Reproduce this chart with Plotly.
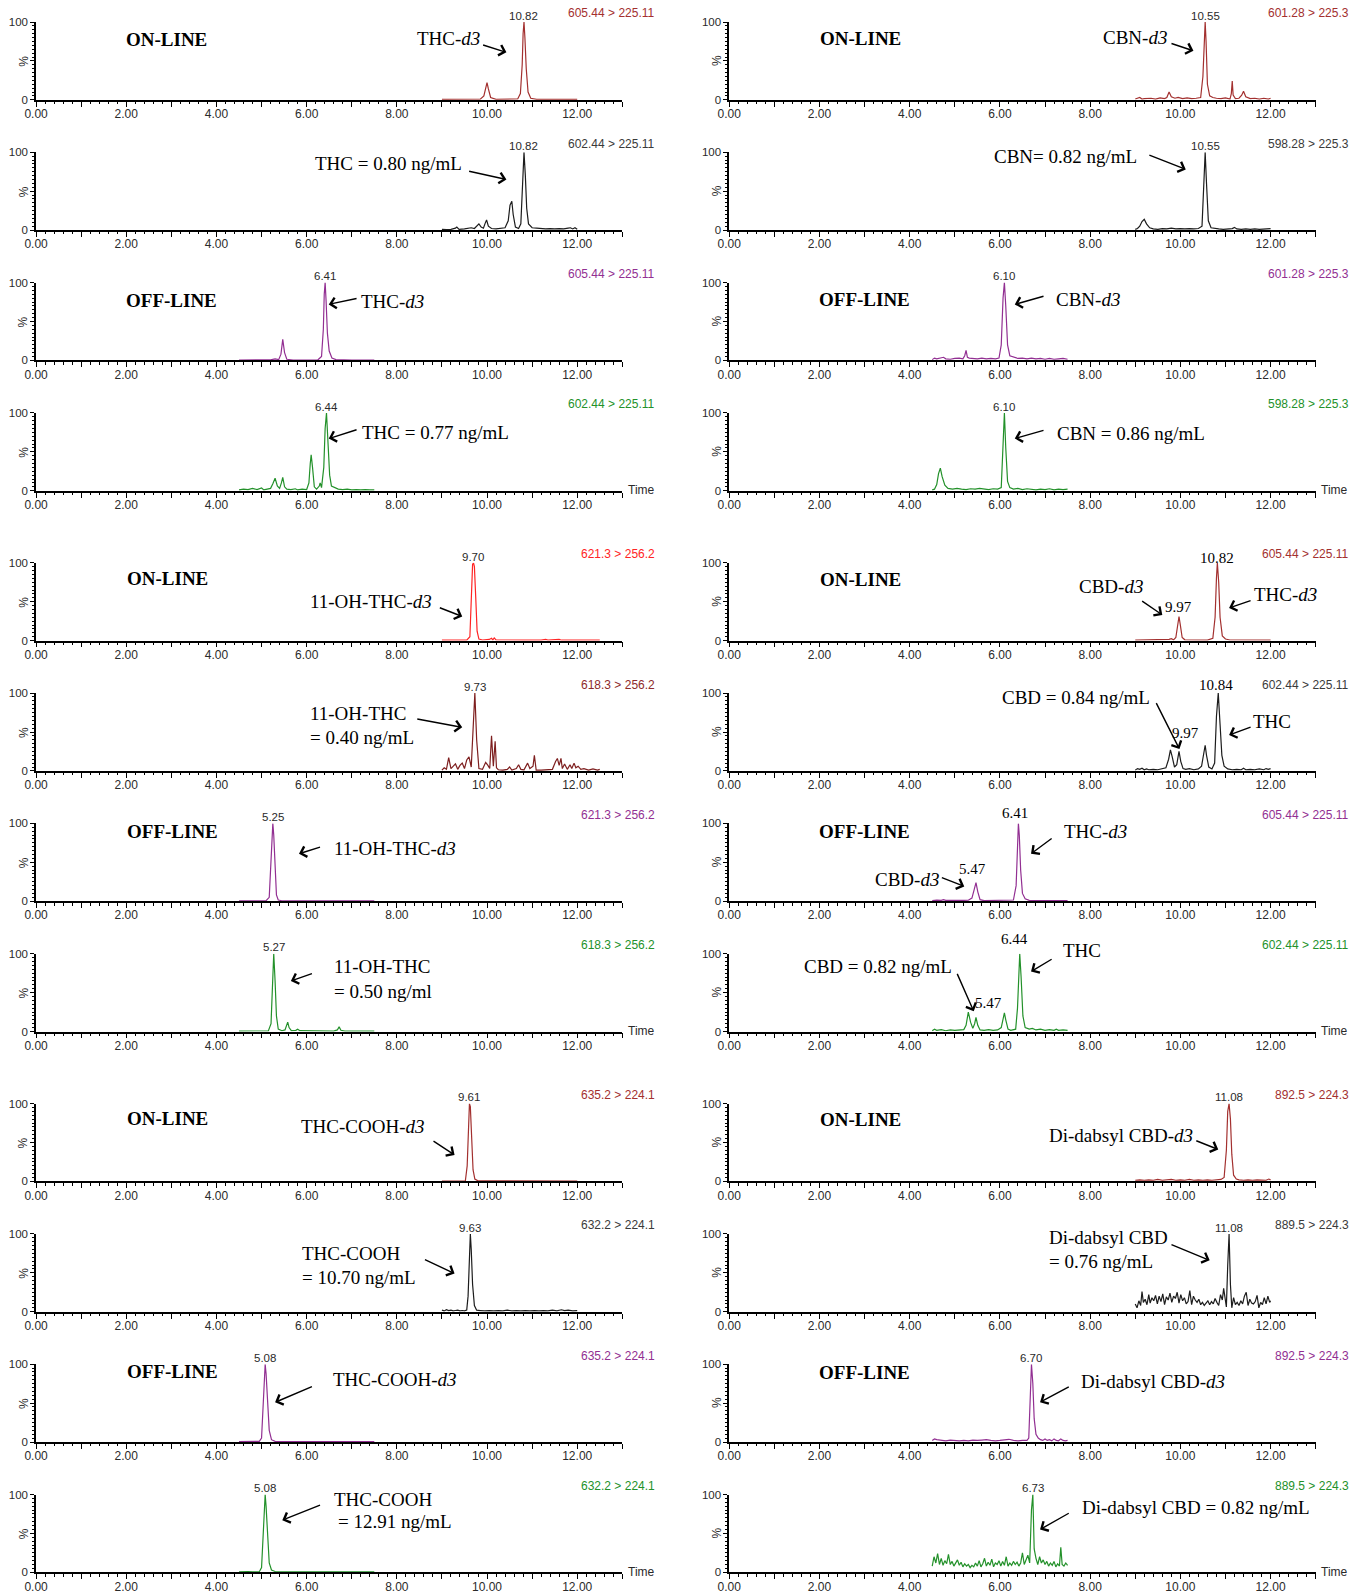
import plotly.graph_objects as go

# ---------------- chromatogram traces: retention time (min) / relative intensity (%) ----------------
# THC / CBN, on-line and off-line
thc_d3_on_t = [9.00, 9.30, 9.60, 9.85, 9.93, 9.97, 10.00, 10.03, 10.08, 10.20, 10.50, 10.68, 10.74, 10.78, 10.80, 10.82, 10.84, 10.87, 10.91, 10.97, 11.10, 11.50, 12.00]
thc_d3_on_y = [0.5, 0.5, 0.5, 0.8, 5, 16, 22, 14, 3, 0.6, 0.5, 1, 8, 45, 85, 100, 80, 40, 10, 2, 0.6, 0.5, 0.5]

thc_on_t = [9.00, 9.10, 9.20, 9.30, 9.33, 9.38, 9.50, 9.60, 9.65, 9.72, 9.78, 9.82, 9.87, 9.92, 9.96, 9.99, 10.03, 10.10, 10.20, 10.30, 10.40, 10.47, 10.51, 10.55, 10.58, 10.63, 10.70, 10.75, 10.79, 10.82, 10.85, 10.88, 10.92, 11.00, 11.10, 11.20, 11.30, 11.40, 11.50, 11.60, 11.70, 11.80, 11.85, 11.90, 11.95, 12.00]
thc_on_y = [1, 0.5, 1, 2.5, 4, 1, 1.5, 2, 3, 2, 6, 8, 4, 2.5, 9, 13, 5, 2, 1.5, 2, 3, 12, 32, 37, 20, 4, 2, 8, 60, 100, 70, 28, 8, 3, 2.5, 2, 1.5, 2, 1.5, 2, 1.5, 2.5, 3, 1.5, 3, 1]

thc_d3_off_t = [4.50, 4.80, 5.00, 5.20, 5.30, 5.38, 5.43, 5.47, 5.51, 5.56, 5.70, 5.90, 6.10, 6.25, 6.33, 6.37, 6.39, 6.41, 6.43, 6.46, 6.50, 6.56, 6.65, 6.80, 7.00, 7.30, 7.50]
thc_d3_off_y = [0.5, 0.6, 0.5, 0.8, 2, 1, 8, 27, 10, 1.5, 0.5, 0.6, 0.5, 0.8, 5, 40, 85, 100, 78, 35, 12, 3, 1, 0.6, 0.5, 0.5, 0.5]

thc_off_t = [4.50, 4.60, 4.70, 4.80, 4.90, 5.00, 5.05, 5.10, 5.20, 5.25, 5.30, 5.35, 5.40, 5.44, 5.47, 5.51, 5.56, 5.65, 5.75, 5.80, 5.90, 6.00, 6.05, 6.08, 6.10, 6.13, 6.17, 6.22, 6.28, 6.30, 6.33, 6.38, 6.41, 6.44, 6.47, 6.51, 6.55, 6.62, 6.70, 6.80, 6.90, 7.00, 7.10, 7.20, 7.30, 7.40, 7.50]
thc_off_y = [1, 2, 1.5, 3, 1.5, 3.5, 1, 2, 3, 9, 16, 6, 3, 10, 17, 5, 2, 1.5, 2.5, 1, 2, 1.5, 10, 35, 46, 30, 5, 2, 6, 10, 4, 30, 80, 100, 65, 20, 6, 4, 2, 1.5, 2, 1, 1.5, 1, 1.5, 1, 1]

cbn_d3_on_t = [9.00, 9.10, 9.15, 9.20, 9.35, 9.45, 9.55, 9.65, 9.70, 9.75, 9.80, 9.88, 9.95, 10.05, 10.15, 10.25, 10.35, 10.45, 10.50, 10.53, 10.55, 10.57, 10.60, 10.65, 10.72, 10.80, 10.90, 11.00, 11.10, 11.13, 11.15, 11.17, 11.22, 11.30, 11.36, 11.40, 11.45, 11.55, 11.65, 11.75, 11.85, 11.95, 12.00]
cbn_d3_on_y = [1, 3, 1, 1.5, 2, 1, 2.5, 1.5, 3, 10, 4, 2, 3, 1.5, 2.5, 1.5, 2, 3, 30, 85, 100, 75, 20, 5, 3, 2, 1.5, 2.5, 1, 8, 24, 6, 1.5, 2, 6, 11, 4, 1.5, 2, 1, 2, 1, 2]

cbn_on_t = [9.00, 9.05, 9.10, 9.15, 9.20, 9.25, 9.32, 9.40, 9.50, 9.60, 9.70, 9.80, 9.90, 10.00, 10.10, 10.20, 10.30, 10.40, 10.48, 10.52, 10.55, 10.58, 10.62, 10.68, 10.75, 10.85, 10.95, 11.05, 11.15, 11.20, 11.25, 11.35, 11.45, 11.55, 11.65, 11.75, 11.85, 11.95, 12.00]
cbn_on_y = [1, 2, 5, 11, 14, 8, 3, 1.5, 1, 2, 1.5, 2.5, 1.5, 2, 1.5, 2, 1.5, 2, 5, 70, 100, 60, 12, 3, 2, 1.5, 1, 1.5, 2, 3.5, 1.5, 1, 1.5, 1, 1.5, 1, 1.5, 2.5, 2]

cbn_d3_off_t = [4.50, 4.55, 4.60, 4.70, 4.75, 4.80, 4.90, 5.00, 5.10, 5.18, 5.22, 5.25, 5.28, 5.32, 5.40, 5.50, 5.60, 5.70, 5.80, 5.90, 5.98, 6.03, 6.07, 6.10, 6.13, 6.17, 6.22, 6.30, 6.40, 6.50, 6.60, 6.70, 6.80, 6.90, 7.00, 7.10, 7.20, 7.30, 7.40, 7.50]
cbn_d3_off_y = [1, 3, 2, 3, 4, 2, 1.5, 2.5, 3, 2, 6, 13, 4, 3, 2.5, 2, 3, 2, 2.5, 2, 3, 20, 80, 100, 70, 20, 6, 4, 2.5, 3, 2, 3, 2, 2.5, 1.5, 2.5, 1.5, 2, 2.5, 1.5]

cbn_off_t = [4.50, 4.55, 4.60, 4.64, 4.68, 4.72, 4.78, 4.85, 4.95, 5.05, 5.15, 5.25, 5.35, 5.45, 5.55, 5.65, 5.75, 5.85, 5.95, 6.03, 6.07, 6.10, 6.13, 6.17, 6.22, 6.30, 6.40, 6.50, 6.60, 6.70, 6.80, 6.90, 7.00, 7.10, 7.20, 7.30, 7.40, 7.50]
cbn_off_y = [1, 2, 8, 22, 29, 18, 7, 3, 2, 3, 2, 1.5, 2.5, 2, 3, 2, 1.5, 2.5, 2, 4, 60, 100, 55, 12, 4, 2, 3, 1.5, 2.5, 2, 1, 2, 1.5, 2.5, 1, 2, 1.5, 2]

# 11-OH-THC / CBD
ohthc_d3_on_t = [9.00, 9.30, 9.55, 9.62, 9.66, 9.68, 9.70, 9.72, 9.75, 9.78, 9.82, 9.90, 10.05, 10.10, 10.13, 10.16, 10.20, 10.40, 10.80, 11.20, 11.30, 11.35, 11.55, 11.60, 11.65, 12.00, 12.50]
ohthc_d3_on_y = [0.5, 0.5, 0.6, 5, 60, 98, 100, 95, 55, 12, 2, 0.8, 1.5, 3, 1, 3.5, 1, 0.6, 0.5, 0.6, 1.5, 0.6, 0.6, 1.5, 0.5, 0.6, 0.5]

ohthc_on_t = [9.00, 9.05, 9.10, 9.15, 9.20, 9.25, 9.30, 9.35, 9.40, 9.45, 9.50, 9.55, 9.60, 9.65, 9.69, 9.73, 9.77, 9.82, 9.90, 9.97, 10.02, 10.06, 10.10, 10.14, 10.18, 10.21, 10.25, 10.35, 10.45, 10.50, 10.55, 10.65, 10.70, 10.75, 10.82, 10.90, 10.95, 11.02, 11.05, 11.09, 11.20, 11.35, 11.45, 11.52, 11.56, 11.60, 11.64, 11.67, 11.72, 11.78, 11.84, 11.88, 11.93, 11.97, 12.02, 12.08, 12.15, 12.25, 12.35, 12.45, 12.50]
ohthc_on_y = [1, 4, 2, 17, 3, 6, 9, 2, 7, 10, 3, 14, 18, 5, 60, 100, 40, 3, 2, 11, 7, 3, 45, 6, 38, 4, 1.5, 1, 2, 5, 1, 3, 8, 2, 1.5, 10, 3, 6, 20, 1, 1, 1.5, 2, 12, 16, 7, 16, 3, 9, 2, 8, 3, 10, 4, 6, 2, 3, 1, 2.5, 1, 2]

ohthc_d3_off_t = [4.50, 4.90, 5.10, 5.17, 5.21, 5.23, 5.25, 5.27, 5.30, 5.33, 5.37, 5.45, 5.80, 6.60, 6.70, 6.80, 7.50]
ohthc_d3_off_y = [0.5, 0.5, 0.6, 5, 55, 92, 100, 85, 40, 8, 1.5, 0.6, 0.5, 0.5, 1, 0.5, 0.5]

ohthc_off_t = [4.50, 4.90, 5.15, 5.21, 5.24, 5.27, 5.30, 5.33, 5.37, 5.45, 5.52, 5.56, 5.58, 5.61, 5.66, 5.76, 5.80, 5.85, 6.10, 6.60, 6.68, 6.72, 6.76, 6.85, 7.50]
ohthc_off_y = [0.5, 0.6, 0.8, 10, 70, 100, 65, 20, 3, 1, 2, 9, 12, 5, 1, 1.5, 3, 1, 0.6, 0.6, 2, 6, 1.5, 0.6, 0.5]

cbd_d3_on_t = [9.00, 9.30, 9.60, 9.75, 9.80, 9.85, 9.90, 9.94, 9.97, 10.00, 10.04, 10.10, 10.30, 10.60, 10.72, 10.77, 10.80, 10.82, 10.85, 10.88, 10.93, 11.00, 11.10, 11.50, 12.00]
cbd_d3_on_y = [0.5, 0.8, 0.6, 1.5, 2.5, 1, 4, 18, 31, 20, 4, 1, 0.6, 0.6, 3, 30, 80, 100, 75, 30, 6, 2, 0.8, 0.6, 0.5]

cbd_on_t = [9.00, 9.05, 9.10, 9.15, 9.20, 9.25, 9.30, 9.40, 9.50, 9.60, 9.68, 9.74, 9.78, 9.82, 9.87, 9.92, 9.97, 10.01, 10.06, 10.12, 10.20, 10.30, 10.40, 10.47, 10.52, 10.55, 10.58, 10.63, 10.70, 10.76, 10.80, 10.84, 10.88, 10.92, 10.97, 11.05, 11.15, 11.25, 11.35, 11.40, 11.45, 11.55, 11.65, 11.75, 11.85, 11.90, 11.95, 12.00]
cbd_on_y = [1, 3, 2, 3.5, 1.5, 2.5, 1.5, 2, 1.5, 2.5, 4, 15, 27, 18, 5, 8, 25, 12, 3, 2, 3, 1.5, 2.5, 6, 25, 33, 20, 5, 2.5, 10, 70, 100, 60, 20, 6, 2.5, 1.5, 2, 1.5, 3.5, 1.5, 2, 1.5, 2.5, 1.5, 3, 2, 3]

cbd_d3_off_t = [4.50, 4.60, 4.70, 4.75, 4.80, 4.90, 5.00, 5.10, 5.20, 5.30, 5.38, 5.43, 5.47, 5.51, 5.56, 5.65, 5.80, 6.00, 6.20, 6.30, 6.36, 6.39, 6.41, 6.43, 6.46, 6.50, 6.56, 6.65, 6.80, 7.00, 7.20, 7.50]
cbd_d3_off_y = [0.8, 1.5, 1, 2, 1, 0.8, 1.2, 0.8, 1, 1.2, 4, 15, 24, 12, 2, 0.8, 1, 0.8, 1, 1.5, 20, 75, 100, 85, 40, 10, 3, 1, 0.8, 1, 0.8, 0.8]

cbd_off_t = [4.50, 4.55, 4.60, 4.70, 4.80, 4.90, 5.00, 5.10, 5.20, 5.25, 5.30, 5.35, 5.40, 5.44, 5.47, 5.51, 5.56, 5.65, 5.75, 5.85, 5.95, 6.03, 6.07, 6.10, 6.13, 6.18, 6.24, 6.30, 6.35, 6.39, 6.42, 6.44, 6.47, 6.51, 6.56, 6.65, 6.72, 6.80, 6.90, 7.00, 7.10, 7.20, 7.25, 7.30, 7.40, 7.50]
cbd_off_y = [1, 3, 1.5, 2.5, 1, 2, 1.5, 2, 2.5, 8, 25, 12, 4, 10, 18, 8, 2, 1.5, 2.5, 1.5, 2, 5, 18, 24, 15, 3, 1.5, 2, 3, 30, 85, 100, 70, 20, 5, 3, 4, 2, 3, 1.5, 2.5, 1.5, 3, 1.5, 2, 1.5]

# THC-COOH / di-dabsyl CBD
thccooh_d3_on_t = [9.00, 9.40, 9.52, 9.56, 9.59, 9.61, 9.63, 9.66, 9.69, 9.73, 9.80, 10.00, 10.50, 11.00, 11.50, 12.00]
thccooh_d3_on_y = [0.5, 0.5, 0.8, 20, 90, 100, 96, 60, 15, 3, 0.8, 0.6, 0.5, 0.6, 0.5, 0.5]

thccooh_on_t = [9.00, 9.05, 9.10, 9.15, 9.20, 9.25, 9.30, 9.35, 9.40, 9.45, 9.50, 9.55, 9.58, 9.61, 9.63, 9.65, 9.68, 9.72, 9.77, 9.85, 9.95, 10.05, 10.15, 10.25, 10.35, 10.45, 10.55, 10.65, 10.75, 10.85, 10.95, 11.05, 11.15, 11.25, 11.35, 11.45, 11.55, 11.65, 11.72, 11.80, 11.90, 12.00]
thccooh_on_y = [2, 1, 2.5, 1.5, 2, 1, 1.5, 2, 1, 1.5, 1, 2, 20, 85, 100, 80, 35, 8, 2, 1.5, 1, 1.5, 1, 1.5, 1, 2, 1, 1.5, 1, 1.5, 1, 1.5, 1, 1.5, 1, 2, 1, 2.5, 1.5, 2, 1, 1.5]

thccooh_d3_off_t = [4.50, 4.80, 4.95, 5.00, 5.03, 5.06, 5.08, 5.10, 5.13, 5.17, 5.22, 5.30, 5.60, 6.00, 6.50, 7.00, 7.50]
thccooh_d3_off_y = [0.5, 0.6, 0.8, 5, 45, 90, 100, 88, 50, 15, 3, 0.8, 0.6, 0.6, 0.5, 0.6, 0.5]

thccooh_off_t = [4.50, 4.60, 4.65, 4.70, 4.80, 4.95, 5.00, 5.03, 5.06, 5.08, 5.10, 5.13, 5.17, 5.22, 5.30, 5.50, 5.80, 6.00, 6.40, 6.80, 7.20, 7.50]
thccooh_off_y = [0.6, 0.8, 1.5, 0.8, 0.6, 0.8, 6, 50, 92, 100, 85, 45, 12, 3, 1, 0.6, 0.8, 0.6, 0.7, 0.6, 0.6, 0.5]

dcbd_d3_on_t = [9.00, 9.10, 9.20, 9.30, 9.40, 9.50, 9.60, 9.70, 9.80, 9.90, 10.00, 10.10, 10.20, 10.30, 10.40, 10.50, 10.60, 10.70, 10.80, 10.90, 10.97, 11.02, 11.05, 11.08, 11.11, 11.14, 11.18, 11.24, 11.30, 11.40, 11.50, 11.60, 11.70, 11.80, 11.90, 11.96, 12.00]
dcbd_d3_on_y = [1.5, 2, 1.5, 2, 1.5, 2.5, 1.5, 2, 2.5, 1.5, 2, 1.5, 2.5, 1.5, 2, 1.5, 2, 1.5, 2, 2.5, 5, 40, 90, 100, 80, 35, 8, 3, 2, 1.5, 2, 1.5, 2, 1.5, 1.5, 3, 2]

dcbd_on_t = [9.00, 9.04, 9.08, 9.12, 9.15, 9.18, 9.22, 9.26, 9.30, 9.33,
             9.37, 9.41, 9.45, 9.49, 9.53, 9.57, 9.61, 9.65, 9.69, 9.73,
             9.77, 9.81, 9.85, 9.89, 9.93, 9.97, 10.01, 10.05, 10.09, 10.13,
             10.17, 10.21, 10.25, 10.29, 10.33, 10.37, 10.41, 10.45, 10.49, 10.53,
             10.57, 10.61, 10.65, 10.69, 10.73, 10.77, 10.81, 10.85, 10.89, 10.93,
             10.96, 10.99, 11.02, 11.05, 11.08, 11.11, 11.14, 11.18, 11.22, 11.26,
             11.30, 11.34, 11.38, 11.42, 11.46, 11.50, 11.54, 11.58, 11.62, 11.66,
             11.70, 11.74, 11.78, 11.82, 11.86, 11.90, 11.94, 11.98, 12.00]
dcbd_on_y = [10, 5, 14, 8, 26, 12, 16, 9, 22, 11,
             18, 14, 21, 10, 20, 13, 23, 9, 19, 15,
             24, 12, 20, 17, 25, 11, 22, 14, 18, 10,
             13, 27, 9, 20, 15, 12, 16, 9, 12, 8,
             11, 14, 9, 13, 10, 17, 12, 8, 22, 15,
             30, 18, 6, 60, 100, 35, 5, 18, 9, 12,
             8, 14, 10, 20, 25, 8, 16, 11, 10, 13,
             21, 5, 12, 9, 18, 10, 20, 12, 14]

dcbd_d3_off_t = [4.50, 4.55, 4.60, 4.70, 4.80, 4.90, 5.00, 5.10, 5.20, 5.30, 5.40, 5.50, 5.60, 5.70, 5.80, 5.90, 6.00, 6.10, 6.20, 6.30, 6.40, 6.50, 6.60, 6.64, 6.67, 6.70, 6.73, 6.76, 6.80, 6.85, 6.90, 6.95, 7.00, 7.05, 7.10, 7.15, 7.20, 7.25, 7.30, 7.35, 7.40, 7.45, 7.50]
dcbd_d3_off_y = [2, 4, 3, 2, 1.5, 2.5, 2, 1.5, 2, 1.5, 2.5, 2, 2.5, 3, 2, 1.5, 2, 2.5, 3.5, 2, 1.5, 2, 2, 5, 70, 100, 75, 30, 10, 5, 3, 2, 4, 2, 3, 1.5, 4, 2, 1.5, 4, 2, 1.5, 2]

dcbd_off_t = [4.50, 4.54, 4.58, 4.62, 4.66, 4.70, 4.74, 4.78, 4.82, 4.86,
              4.90, 4.94, 4.98, 5.02, 5.06, 5.10, 5.14, 5.18, 5.22, 5.26,
              5.30, 5.34, 5.38, 5.42, 5.46, 5.50, 5.54, 5.58, 5.62, 5.66,
              5.70, 5.74, 5.78, 5.82, 5.86, 5.90, 5.94, 5.98, 6.02, 6.06,
              6.10, 6.14, 6.18, 6.22, 6.26, 6.30, 6.34, 6.38, 6.42, 6.46,
              6.50, 6.54, 6.58, 6.62, 6.66, 6.70, 6.73, 6.76, 6.80, 6.84,
              6.88, 6.92, 6.96, 7.00, 7.04, 7.08, 7.12, 7.16, 7.20, 7.24,
              7.28, 7.32, 7.35, 7.38, 7.42, 7.46, 7.50]
dcbd_off_y = [8, 20, 12, 24, 10, 18, 9, 15, 11, 23,
              10, 14, 8, 12, 16, 9, 13, 7, 11, 8,
              10, 6, 9, 7, 12, 8, 15, 7, 11, 18,
              8, 13, 9, 17, 7, 12, 10, 15, 8, 14,
              9, 20, 8, 12, 9, 14, 10, 13, 8, 12,
              25, 10, 16, 22, 12, 80, 100, 30, 18, 10,
              20, 12, 16, 10, 14, 8, 12, 9, 14, 7,
              11, 8, 32, 10, 8, 12, 9]

# ---------------- styling ----------------
W, H = 1370, 1592
SANS = "Liberation Sans, Arial, Helvetica, sans-serif"
SERIF = "Liberation Serif, Times New Roman, Times, serif"

DARKRED = "#a3302f"
RED = "#ff2424"
BROWN = "#7e1f1f"
BLACK = "#1c1c1c"
GRAYTXT = "#3a3a3a"
PURPLE = "#922f92"
GREEN = "#23912a"

ON = "<b>ON-LINE</b>"
OFF = "<b>OFF-LINE</b>"

T_MAX, I_MAX = 13.0, 100.0


def panel(t, y, color, mrm, mrm_color, peaks, texts, arrows, time_label=False):
    return dict(t=t, y=y, color=color, mrm=mrm, mrm_color=mrm_color,
                peaks=peaks, texts=texts, arrows=arrows, time_label=time_label)


# texts: (t, %, html, xanchor, size); peaks: (t, %, text, serif); arrows: (t_tail, %_tail, t_head, %_head)
panels = [
    # ---- group 1, left: THC ----
    panel(thc_d3_on_t, thc_d3_on_y, DARKRED, "605.44 > 225.11", DARKRED,
          [(10.82, 108, "10.82", False)],
          [(2.89, 78, ON, "center", 19), (9.14, 79, "THC-<i>d3</i>", "center", 19)],
          [(9.88, 71, 10.43, 61)]),
    panel(thc_on_t, thc_on_y, BLACK, "602.44 > 225.11", GRAYTXT,
          [(10.82, 108, "10.82", False)],
          [(7.82, 85, "THC = 0.80 ng/mL", "center", 19)],
          [(9.57, 76, 10.43, 65)]),
    panel(thc_d3_off_t, thc_d3_off_y, PURPLE, "605.44 > 225.11", PURPLE,
          [(6.41, 108, "6.41", False)],
          [(3.0, 77, OFF, "center", 19), (7.9, 76, "THC-<i>d3</i>", "center", 19)],
          [(7.14, 80, 6.49, 72)]),
    panel(thc_off_t, thc_off_y, GREEN, "602.44 > 225.11", GREEN,
          [(6.44, 108, "6.44", False)],
          [(8.86, 75, "THC = 0.77 ng/mL", "center", 19)],
          [(7.14, 79, 6.49, 67)], True),
    # ---- group 1, right: CBN ----
    panel(cbn_d3_on_t, cbn_d3_on_y, DARKRED, "601.28 > 225.3", DARKRED,
          [(10.55, 108, "10.55", False)],
          [(2.9, 79, ON, "center", 19), (9.0, 80, "CBN-<i>d3</i>", "center", 19)],
          [(9.77, 73, 10.29, 63)]),
    panel(cbn_on_t, cbn_on_y, BLACK, "598.28 > 225.3", GRAYTXT,
          [(10.55, 108, "10.55", False)],
          [(7.46, 94, "CBN= 0.82 ng/mL", "center", 19)],
          [(9.28, 97, 10.12, 78)]),
    panel(cbn_d3_off_t, cbn_d3_off_y, PURPLE, "601.28 > 225.3", PURPLE,
          [(6.10, 108, "6.10", False)],
          [(3.0, 78, OFF, "center", 19), (7.96, 78, "CBN-<i>d3</i>", "center", 19)],
          [(7.0, 83, 6.33, 72)]),
    panel(cbn_off_t, cbn_off_y, GREEN, "598.28 > 225.3", GREEN,
          [(6.10, 108, "6.10", False)],
          [(8.9, 74, "CBN = 0.86 ng/mL", "center", 19)],
          [(7.0, 78, 6.33, 67)], True),
    # ---- group 2, left: 11-OH-THC ----
    panel(ohthc_d3_on_t, ohthc_d3_on_y, RED, "621.3 > 256.2", RED,
          [(9.70, 108, "9.70", False)],
          [(2.91, 80, ON, "center", 19), (7.42, 50, "11-OH-THC-<i>d3</i>", "center", 19)],
          [(8.92, 43, 9.45, 31)]),
    panel(ohthc_on_t, ohthc_on_y, BROWN, "618.3 > 256.2", "#8e2a2a",
          [(9.73, 108, "9.73", False)],
          [(6.03, 74, "11-OH-THC", "left", 19), (6.03, 43, "= 0.40 ng/mL", "left", 19)],
          [(8.42, 67, 9.45, 56)]),
    panel(ohthc_d3_off_t, ohthc_d3_off_y, PURPLE, "621.3 > 256.2", PURPLE,
          [(5.25, 108, "5.25", False)],
          [(3.03, 90, OFF, "center", 19), (7.95, 68, "11-OH-THC-<i>d3</i>", "center", 19)],
          [(6.33, 70, 5.83, 61)]),
    panel(ohthc_off_t, ohthc_off_y, GREEN, "618.3 > 256.2", GREEN,
          [(5.27, 108, "5.27", False)],
          [(6.57, 83, "11-OH-THC", "left", 19), (6.57, 52, "= 0.50 ng/ml", "left", 19)],
          [(6.15, 75, 5.65, 65)], True),
    # ---- group 2, right: CBD ----
    panel(cbd_d3_on_t, cbd_d3_on_y, DARKRED, "605.44 > 225.11", DARKRED,
          [(10.82, 106, "10.82", True), (9.95, 43, "9.97", True)],
          [(2.9, 79, ON, "center", 19), (8.47, 70, "CBD-<i>d3</i>", "center", 19),
           (12.32, 59, "THC-<i>d3</i>", "center", 19)],
          [(9.12, 52, 9.6, 33), (11.59, 52, 11.08, 42)]),
    panel(cbd_on_t, cbd_on_y, BLACK, "602.44 > 225.11", GRAYTXT,
          [(10.80, 110, "10.84", True), (10.12, 49, "9.97", True)],
          [(7.69, 94, "CBD = 0.84 ng/mL", "center", 19), (12.04, 64, "THC", "center", 19)],
          [(9.45, 89, 9.98, 28), (11.59, 57, 11.08, 46)]),
    panel(cbd_d3_off_t, cbd_d3_off_y, PURPLE, "605.44 > 225.11", PURPLE,
          [(6.33, 114, "6.41", True), (5.40, 42, "5.47", True)],
          [(3.0, 90, OFF, "center", 19), (8.12, 90, "THC-<i>d3</i>", "center", 19),
           (3.93, 28, "CBD-<i>d3</i>", "center", 19)],
          [(7.18, 82, 6.69, 61), (4.68, 31, 5.21, 19)]),
    panel(cbd_off_t, cbd_off_y, GREEN, "602.44 > 225.11", GREEN,
          [(6.33, 119, "6.44", True), (5.75, 37, "5.47", True)],
          [(7.83, 104, "THC", "center", 19), (3.30, 83, "CBD = 0.82 ng/mL", "center", 19)],
          [(7.18, 94, 6.69, 77), (5.04, 76, 5.42, 26)], True),
    # ---- group 3, left: THC-COOH ----
    panel(thccooh_d3_on_t, thccooh_d3_on_y, DARKRED, "635.2 > 224.1", DARKRED,
          [(9.61, 108, "9.61", False)],
          [(2.91, 81, ON, "center", 19), (7.25, 71, "THC-COOH-<i>d3</i>", "center", 19)],
          [(8.78, 53, 9.28, 34)]),
    panel(thccooh_on_t, thccooh_on_y, BLACK, "632.2 > 224.1", GRAYTXT,
          [(9.63, 108, "9.63", False)],
          [(5.85, 75, "THC-COOH", "left", 19), (5.85, 44, "= 10.70 ng/mL", "left", 19)],
          [(8.59, 68, 9.28, 49)]),
    panel(thccooh_d3_off_t, thccooh_d3_off_y, PURPLE, "635.2 > 224.1", PURPLE,
          [(5.08, 108, "5.08", False)],
          [(3.03, 91, OFF, "center", 19), (7.96, 80, "THC-COOH-<i>d3</i>", "center", 19)],
          [(6.15, 72, 5.30, 51)]),
    panel(thccooh_off_t, thccooh_off_y, GREEN, "632.2 > 224.1", GREEN,
          [(5.08, 108, "5.08", False)],
          [(6.57, 94, "THC-COOH", "left", 19), (6.64, 65, "= 12.91 ng/mL", "left", 19)],
          [(6.33, 87, 5.46, 67)], True),
    # ---- group 3, right: di-dabsyl CBD ----
    panel(dcbd_d3_on_t, dcbd_d3_on_y, DARKRED, "892.5 > 224.3", DARKRED,
          [(11.08, 108, "11.08", False)],
          [(2.9, 80, ON, "center", 19), (8.69, 59, "Di-dabsyl CBD-<i>d3</i>", "center", 19)],
          [(10.32, 53, 10.84, 41)]),
    panel(dcbd_on_t, dcbd_on_y, BLACK, "889.5 > 224.3", GRAYTXT,
          [(11.08, 108, "11.08", False)],
          [(7.05, 95, "Di-dabsyl CBD", "left", 19), (7.05, 64, "= 0.76 ng/mL", "left", 19)],
          [(9.77, 87, 10.65, 66)]),
    panel(dcbd_d3_off_t, dcbd_d3_off_y, PURPLE, "892.5 > 224.3", PURPLE,
          [(6.70, 108, "6.70", False)],
          [(3.0, 89, OFF, "center", 19), (9.4, 78, "Di-dabsyl CBD-<i>d3</i>", "center", 19)],
          [(7.56, 72, 6.89, 51)]),
    panel(dcbd_off_t, dcbd_off_y, GREEN, "889.5 > 224.3", GREEN,
          [(6.73, 108, "6.73", False)],
          [(10.35, 83, "Di-dabsyl CBD = 0.82 ng/mL", "center", 19)],
          [(7.56, 77, 6.89, 55)], True),
]

# pixel geometry of the plotting areas
COL_X = [(36.1, 622.3), (729.2, 1315.7)]
TOP0, GROUP_STEP, ROW_STEP, PANEL_H = 22.0, 540.8, 130.3, 77.8

fig = go.Figure()
annotations = []
axes = {}

x_tickvals = list(range(14))
x_ticktext = [f"{v:.2f}" if (v % 2 == 0 and v <= 12) else "" for v in x_tickvals]


def paper_text(xd, yd, t, v, text, **kw):
    """Text placed in paper space from (time, intensity) of a panel, so it may sit outside the axis range."""
    px = xd[0] + t / T_MAX * (xd[1] - xd[0])
    py = yd[0] + v / I_MAX * (yd[1] - yd[0])
    return dict(xref="paper", yref="paper", x=px, y=py, text=text, showarrow=False, **kw)


for i, p in enumerate(panels):
    g, c, r = i // 8, (i // 4) % 2, i % 4
    suffix = "" if i == 0 else str(i + 1)
    xr, yr = "x" + suffix, "y" + suffix
    top = TOP0 + g * GROUP_STEP + r * ROW_STEP
    bottom = top + PANEL_H
    x0, x1 = COL_X[c]
    xd = [x0 / W, x1 / W]
    yd = [1 - bottom / H, 1 - top / H]

    fig.add_trace(go.Scatter(
        x=p["t"], y=p["y"], xaxis=xr, yaxis=yr, mode="lines",
        line=dict(color=p["color"], width=1.2), hoverinfo="skip", showlegend=False))

    axes["xaxis" + suffix] = dict(
        domain=xd, range=[0, T_MAX], anchor=yr, automargin=False,
        showline=True, linecolor="black", linewidth=1.6,
        ticks="outside", ticklen=5, tickwidth=1, tickcolor="black",
        tickmode="array", tickvals=x_tickvals, ticktext=x_ticktext,
        ticklabelstandoff=-3,
        tickfont=dict(family=SANS, size=12, color="#2a2a2a"),
        minor=dict(tick0=0, dtick=0.2, ticks="outside", ticklen=2.5, tickwidth=1, tickcolor="black"),
        showgrid=False, zeroline=False, fixedrange=True)
    axes["yaxis" + suffix] = dict(
        domain=yd, range=[0, I_MAX], anchor=xr, automargin=False,
        showline=True, linecolor="black", linewidth=1.6,
        ticks="outside", ticklen=4, tickwidth=1, tickcolor="black",
        tickmode="array", tickvals=[0, 50, 100], ticktext=["0", "", "100"],
        tickfont=dict(family=SANS, size=11.5, color="#2a2a2a"),
        minor=dict(tick0=0, dtick=5, ticks="outside", ticklen=2, tickwidth=1, tickcolor="black"),
        showgrid=False, zeroline=False, fixedrange=True)

    # "%" axis caption
    annotations.append(paper_text(xd, yd, -0.27, 50, "%", textangle=-90,
                                  xanchor="center", yanchor="middle",
                                  font=dict(family=SANS, size=12, color="#2a2a2a")))
    # transition (MRM channel) label
    annotations.append(paper_text(xd, yd, 13.78, 111, p["mrm"], xanchor="right", yanchor="middle",
                                  font=dict(family=SANS, size=12, color=p["mrm_color"])))
    # retention-time labels
    for (pt, py, txt, serif) in p["peaks"]:
        annotations.append(paper_text(
            xd, yd, pt, py, txt, xanchor="center", yanchor="middle",
            font=dict(family=SERIF if serif else SANS, size=15 if serif else 11.5,
                      color="black" if serif else "#2a2a2a")))
    # compound / mode labels
    for (tt, ty, txt, anchor, size) in p["texts"]:
        annotations.append(paper_text(xd, yd, tt, ty, txt, xanchor=anchor, yanchor="middle",
                                      font=dict(family=SERIF, size=size, color="black")))
    # pointer arrows (data coordinates, both ends inside the panel)
    for (ta, ya, th, yh) in p["arrows"]:
        annotations.append(dict(xref=xr, yref=yr, axref=xr, ayref=yr,
                                x=th, y=yh, ax=ta, ay=ya, text="", showarrow=True,
                                arrowhead=4, arrowsize=1.5, arrowwidth=1.4, arrowcolor="black",
                                standoff=0, startstandoff=0))
    if p["time_label"]:
        annotations.append(paper_text(xd, yd, 13.08, 1, "Time", xanchor="left", yanchor="middle",
                                      font=dict(family=SANS, size=12, color="#2a2a2a")))

fig.update_layout(
    width=W, height=H, margin=dict(l=0, r=0, t=0, b=0, pad=0, autoexpand=False),
    paper_bgcolor="white", plot_bgcolor="white",
    font=dict(family=SANS, color="black"),
    annotations=annotations, showlegend=False,
    **axes)

fig.write_html("out.html", config={"displayModeBar": False})
